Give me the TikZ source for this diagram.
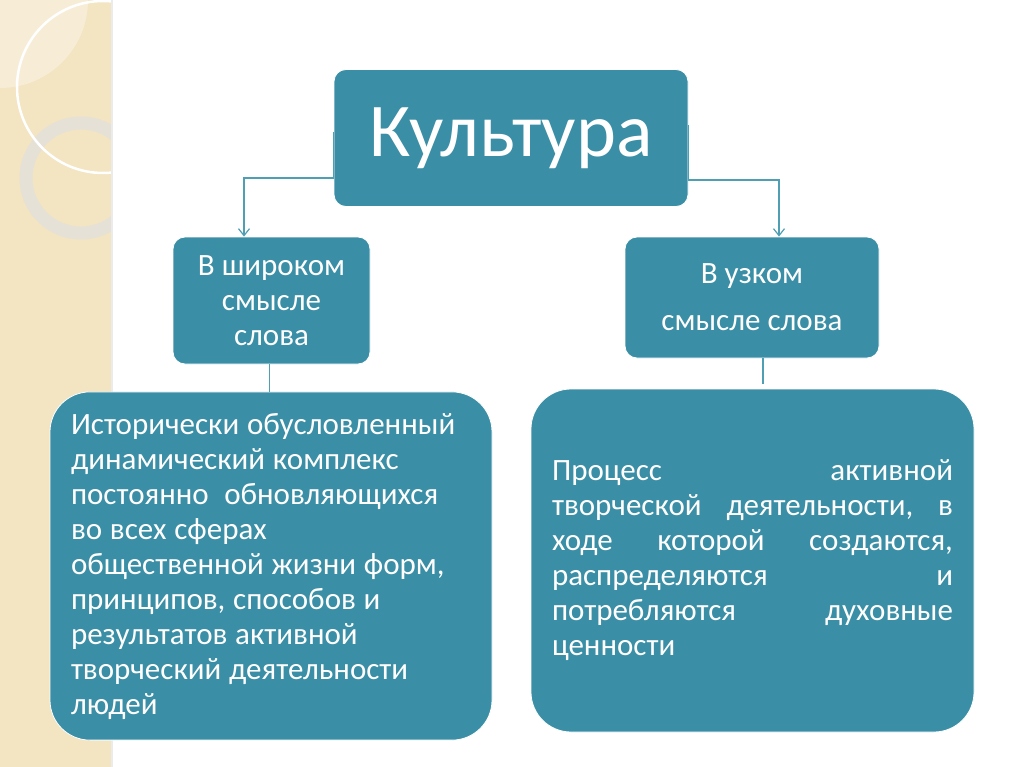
\documentclass[tikz,border=0pt]{standalone}
\usepackage{fontspec}
\setmainfont{Carlito}
\usetikzlibrary{arrows.meta}
\definecolor{boxteal}{HTML}{3A8EA5}
\definecolor{lineteal}{HTML}{4E9EB4}
\definecolor{stripbeige}{HTML}{F3E4C2}
\definecolor{ringgray}{HTML}{E5E1D7}

\begin{document}
\begin{tikzpicture}[x=1pt,y=-1pt]
   \tikzstyle{box}=[draw=white, line width=0.8pt, fill=boxteal, text=white, rounded corners=12pt, inner sep=0pt]
   \tikzstyle{bigbox}=[box, rounded corners=40pt, inner sep=21pt, font=\fontsize{31}{35}\selectfont]
   \tikzstyle{conn}=[draw=lineteal, line width=1.2pt]

\useasboundingbox (0,0) rectangle (1024,767);

% decorative strip on the left
\fill[stripbeige] (0,0) rectangle (111,767);
\begin{scope}
   \clip (0,0) rectangle (111,767);
   \fill[white, opacity=0.35] (0,0) circle (88);
   \draw[ringgray, line width=13pt] (81,178) circle (55);
   \draw[white, line width=2.5pt] (103,87) circle (86);
\end{scope}
\draw[black!8, line width=1.5pt] (112,0) -- (112,767);

\node[box, minimum width=354pt, minimum height=137pt, font=\fontsize{76}{80}\selectfont] (kult) at (511,138) {Культура};

\node[box, minimum width=197pt, minimum height=127pt, align=center, font=\fontsize{31}{35}\selectfont] (wide) at (271.5,300.5) {В широком\\смысле\\слова};
\node[box, minimum width=254pt, minimum height=121pt, align=center, font=\fontsize{31}{47}\selectfont] (narrow) at (752,297.5) {В узком\\смысле слова};

\node[bigbox, text width=400pt, minimum height=342pt] (widedef) at (271,566) {\raggedright\spaceskip=0.25em
   Исторически обусловленный\\динамический комплекс\\постоянно~ обновляющихся\\во всех сферах\\общественной жизни форм,\\принципов, способов и\\результатов активной\\творческий деятельности\\людей};
\node[bigbox, text width=401pt, minimum height=343pt] (narrowdef) at (752.5,560.5) {\raggedright
   Процесс\hfill активной\\
   творческой\hfill деятельности,\hfill в\\
   ходе\hfill которой\hfill создаются,\\
   распределяются\hfill и\\
   потребляются\hfill духовные\\
   ценности};

% connectors
\draw[conn, -{Straight Barb[length=7pt,width=11pt]}] ([yshift=6pt]kult.west) -- ++(0,46) -| ([xshift=-27.5pt]wide.north);
\draw[conn, -{Straight Barb[length=7pt,width=11pt]}] ([yshift=13pt]kult.east) -- ++(0,55) -| ([xshift=27pt]narrow.north);
\draw[conn] ([xshift=-2pt]wide.south) -- ([xshift=-2pt]wide.south |- widedef.north);
\draw[conn, shorten >=5pt] ([xshift=11pt]narrow.south) -- ([xshift=11pt]narrow.south |- narrowdef.north);

\end{tikzpicture}
\end{document}
